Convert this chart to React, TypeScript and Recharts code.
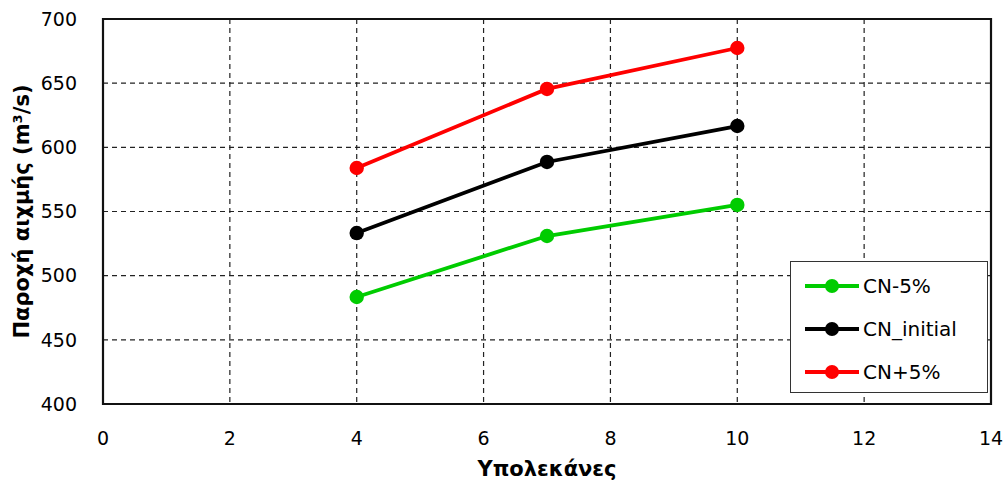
import { CartesianGrid, Line, LineChart, ReferenceArea, XAxis, YAxis } from 'recharts';

// subbasin count vs peak discharge for three CN scenarios
const subbasins = [4, 7, 10];
const cnMinus5 = [483.4, 530.9, 555.1];
const cnInitial = [533.2, 588.6, 616.6];
const cnPlus5 = [583.9, 645.5, 677.4];

const xTicks = [0, 2, 4, 6, 8, 10, 12, 14];
const yTicks = [400, 450, 500, 550, 600, 650, 700];

const seriesInfo = [
  { key: 'minus', name: 'CN-5%', color: '#00cc00' },
  { key: 'initial', name: 'CN_initial', color: '#000000' },
  { key: 'plus', name: 'CN+5%', color: '#ff0000' },
];

const data = subbasins.map((n, i) => ({
  n,
  minus: cnMinus5[i],
  initial: cnInitial[i],
  plus: cnPlus5[i],
}));

const FONT = '"DejaVu Sans", Verdana, sans-serif';

function LegendBox() {
  return (
    <div
      style={{
        position: 'absolute',
        left: 790,
        top: 261,
        width: 198,
        height: 132,
        boxSizing: 'border-box',
        background: '#fff',
        border: '1.5px solid #333',
        padding: '2px 0 0 14px',
        fontFamily: FONT,
        fontSize: 20,
        color: '#000',
      }}
    >
      {seriesInfo.map((s) => (
        <div key={s.key} style={{ display: 'flex', alignItems: 'center', height: 43 }}>
          <svg width={54} height={16} style={{ marginRight: 4 }}>
            <line x1={0} y1={8} x2={54} y2={8} stroke={s.color} strokeWidth={3.8} />
            <circle cx={27} cy={8} r={7} fill={s.color} />
          </svg>
          <span>{s.name}</span>
        </div>
      ))}
    </div>
  );
}

export default function App() {
  return (
    <div style={{ position: 'absolute', left: 0, top: 0, width: 1006, height: 490, background: '#fff' }}>
      <LineChart width={1006} height={490} data={data} margin={{ top: 19, right: 15, bottom: 0, left: 0 }} style={{ overflow: 'visible' }}>
        <CartesianGrid stroke="#222" strokeDasharray="5 4" strokeWidth={1.2} horizontalValues={yTicks} verticalValues={xTicks} />
        <XAxis
          dataKey="n"
          type="number"
          domain={[0, 14]}
          ticks={xTicks}
          height={86}
          axisLine={false}
          tickLine={false}
          tickMargin={22}
          tick={{ fill: '#000', fontSize: 19, fontFamily: FONT }}
          label={{
            value: 'Υπολεκάνες',
            position: 'insideBottom',
            offset: 14,
            style: { fill: '#000', fontSize: 21, fontWeight: 'bold', fontFamily: FONT },
          }}
        />
        <YAxis
          type="number"
          domain={[400, 700]}
          ticks={yTicks}
          width={103}
          axisLine={false}
          tickLine={false}
          tickMargin={20}
          tick={{ fill: '#000', fontSize: 19, fontFamily: FONT }}
          label={{
            value: 'Παροχή αιχμής (m³/s)',
            angle: -90,
            position: 'insideLeft',
            offset: 22,
            style: { fill: '#000', fontSize: 21, fontWeight: 'bold', fontFamily: FONT, textAnchor: 'middle' },
          }}
        />
        <ReferenceArea x1={0} x2={14} y1={400} y2={700} fill="none" stroke="#111" strokeWidth={2.2} />
        {seriesInfo.map((s) => (
          <Line
            key={s.key}
            dataKey={s.key}
            name={s.name}
            stroke={s.color}
            strokeWidth={3.8}
            dot={{ r: 7.2, fill: s.color, stroke: s.color, strokeWidth: 0 }}
            isAnimationActive={false}
          />
        ))}
      </LineChart>
      <LegendBox />
    </div>
  );
}
